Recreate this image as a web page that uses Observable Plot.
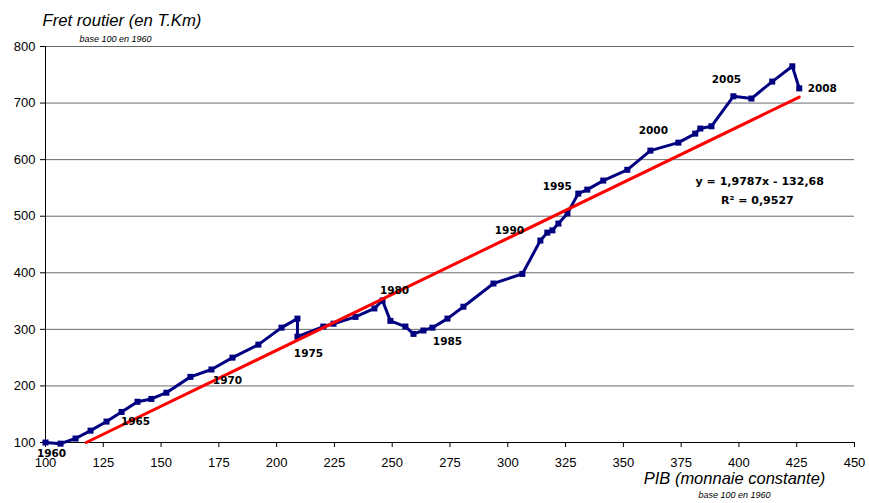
<!DOCTYPE html>
<html>
<head>
<meta charset="utf-8">
<script src="https://cdn.jsdelivr.net/npm/d3@7"></script>
<script src="https://cdn.jsdelivr.net/npm/@observablehq/plot@0.6"></script>
<style>
  body { margin: 0; background: #fff; }
</style>
</head>
<body>
<div id="chart"></div>
<script>
// ---- Data ----
const years = [1960,1961,1962,1963,1964,1965,1966,1967,1968,1969,
               1970,1971,1972,1973,1974,1975,1976,1977,1978,1979,
               1980,1981,1982,1983,1984,1985,1986,1987,1988,1989,
               1990,1991,1992,1993,1994,1995,1996,1997,1998,1999,
               2000,2001,2002,2003,2004,2005,2006,2007,2008];
const pib  = [100,106.5,113,119.5,126.4,132.9,139.8,145.8,152.3,162.7,
              171.8,180.9,192.1,202.1,209,209,220.2,224.6,234.1,242.3,
              245.8,249.2,255.7,259.2,263.5,267.4,273.9,280.8,293.8,306.3,
              314.1,317.1,319.3,321.9,325.8,330.5,334.4,341.3,351.7,361.7,
              373.8,381.1,383.3,388.1,397.6,405.4,414.4,423.1,426.1];
const fret = [100,98,107,121,137,154,172,177,188,216,
              229,250,273,303,319,287,305,310,322,337,
              351,315,305,292,298,303,319,340,381,398,
              457,471,475,487,505,540,547,563,582,616,
              630,646,655,659,712,708,738,765,726];
const labeledYears = [1960,1965,1970,1975,1980,1985,1990,1995,2000,2005,2008];
const trendSlope = 1.9787;
const trendIntercept = -132.68;
const equationLines = ["y = 1,9787x - 132,68", "R\u00b2 = 0,9527"];
const xTicks = [100,125,150,175,200,225,250,275,300,325,350,375,400,425,450];
const yTicks = [100,200,300,400,500,600,700,800];
const yTitle = "Fret routier (en T.Km)";
const xTitle = "PIB (monnaie constante)";
const baseNote = "base 100 en 1960";

// ---- Build tables ----
const data = years.map((yr, i) => ({year: yr, x: pib[i], y: fret[i]}));
const yMin = yTicks[0];
const trendX0 = (yMin - trendIntercept) / trendSlope;
const trendX1 = pib[pib.length - 1];
const trend = [trendX0, trendX1].map(x => ({x, y: trendSlope * x + trendIntercept}));

// label offsets (pixel placement)
const labelOffset = {
  1960: [6, 11], 1965: [14, 10], 1970: [16, 11], 1975: [11, 17], 1980: [12, -10],
  1985: [15, 14], 1990: [-31, -10], 1995: [-21, -7], 2000: [-25, -12], 2005: [-25, -19], 2008: [23, 0]
};
const labelData = data.filter(d => labeledYears.includes(d.year));

const labelFont = "'DejaVu Sans', Verdana, sans-serif";
const axisFont = "'Liberation Sans', Arial, sans-serif";

const yearLabelMarks = labelData.map(d => Plot.text([d], {
  x: "x", y: "y", text: d => String(d.year),
  dx: labelOffset[d.year][0], dy: labelOffset[d.year][1],
  fontFamily: labelFont, fontSize: 10.5, fontWeight: "bold", fill: "#000", lineAnchor: "middle"
}));

const chart = Plot.plot({
  width: 869,
  height: 503,
  marginLeft: 45,
  marginRight: 15,
  marginTop: 46,
  marginBottom: 61,
  x: {domain: [100, 450]},
  y: {domain: [100, 800]},
  style: {fontFamily: axisFont, fontSize: "13px", color: "#000", background: "#fff", overflow: "visible"},
  marks: [
    Plot.ruleY(yTicks.slice(1), {stroke: "#6a6a6a", strokeWidth: 1}),
    Plot.axisX(xTicks, {tickSize: 5, tickPadding: 10, fontSize: 13, label: null, stroke: "#000", fill: "#000", strokeOpacity: 1, tickFormat: d => String(d)}),
    Plot.axisY(yTicks, {tickSize: 5, tickPadding: 5, fontSize: 13, label: null, stroke: "#000", fill: "#000", strokeOpacity: 1, tickFormat: d => String(d)}),
    Plot.ruleY([100], {stroke: "#000", strokeWidth: 1}),
    Plot.ruleX([100], {stroke: "#000", strokeWidth: 1}),
    Plot.line(data, {x: "x", y: "y", stroke: "#000080", strokeWidth: 3, strokeLinejoin: "round"}),
    Plot.dot(data, {x: "x", y: "y", symbol: "square", r: 3.4, fill: "#000080", stroke: "none"}),
    Plot.line(trend, {x: "x", y: "y", stroke: "#ff0000", strokeWidth: 3}),
    ...yearLabelMarks,
    Plot.text([equationLines[0]], {x: 409, y: 561, text: d => d, fontFamily: labelFont, fontSize: 11, fontWeight: "bold", fill: "#000", lineAnchor: "middle"}),
    Plot.text([equationLines[1]], {x: 408, y: 528, text: d => d, fontFamily: labelFont, fontSize: 11, fontWeight: "bold", fill: "#000", lineAnchor: "middle"}),
    // axis titles
    Plot.text([yTitle], {frameAnchor: "top-left", text: d => d, dx: -3, dy: -21, textAnchor: "start", lineAnchor: "bottom", fontSize: 16.7, fontStyle: "italic", fill: "#000"}),
    Plot.text([baseNote], {frameAnchor: "top-left", text: d => d, dx: 34, dy: -5, textAnchor: "start", lineAnchor: "bottom", fontSize: 9, fontStyle: "italic", fill: "#000"}),
    Plot.text([xTitle], {frameAnchor: "bottom-right", text: d => d, dx: -120, dy: 41, textAnchor: "middle", lineAnchor: "bottom", fontSize: 16.5, fontStyle: "italic", fill: "#000"}),
    Plot.text([baseNote], {frameAnchor: "bottom-right", text: d => d, dx: -120, dy: 55, textAnchor: "middle", lineAnchor: "bottom", fontSize: 9, fontStyle: "italic", fill: "#000"})
  ]
});
document.getElementById("chart").appendChild(chart);
</script>
</body>
</html>
